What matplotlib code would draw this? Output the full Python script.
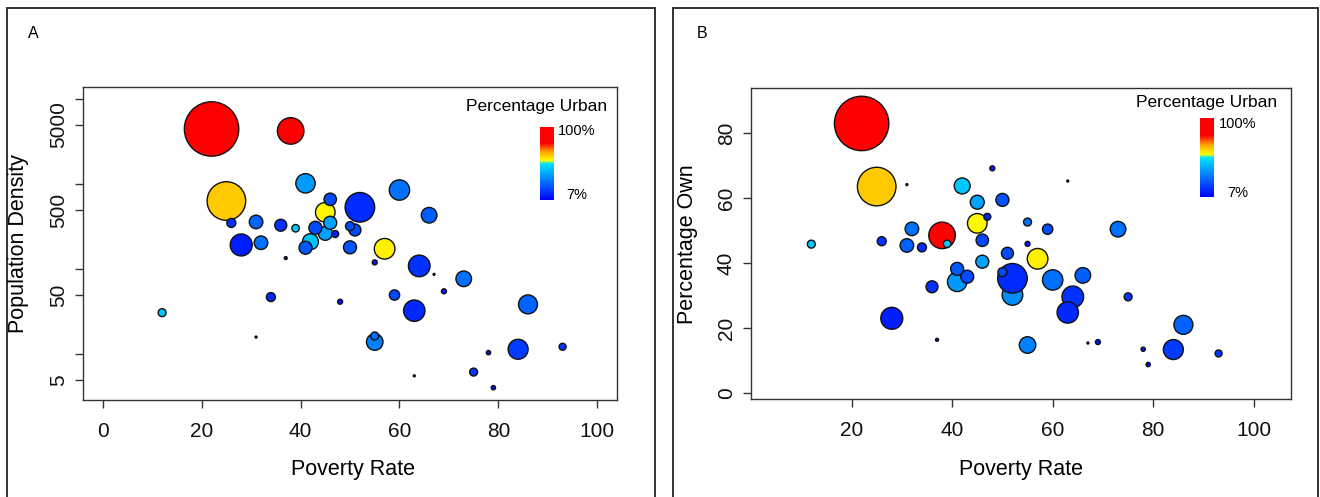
import numpy as np
import matplotlib
matplotlib.use("Agg")
import matplotlib.pyplot as plt
from matplotlib.colors import LinearSegmentedColormap
from matplotlib.patches import Rectangle

# ---------------- data ----------------
poverty = [22, 38, 25, 41, 26, 31, 36, 39, 28, 32, 37, 46, 45, 46, 43, 42, 45, 47, 41, 52,
           51, 50, 60, 66, 57, 50, 55, 64, 67, 73, 34, 59, 48, 69, 63, 86, 55, 55, 84, 93,
           78, 63, 75, 79, 12, 31, 52]
density = [4490, 4260, 638, 1030, 352, 362, 331, 305, 194, 206, 136, 668, 470, 354, 309, 212,
           266, 261, 180, 538, 291, 323, 859, 434, 175, 182, 121, 110, 87.5, 77.6, 47.3, 50,
           41.7, 55.3, 32.7, 38.8, 14.0, 16.5, 11.5, 12.3, 10.5, 5.6, 6.2, 4.06, 31, 16, 530]
own = [82.9, 48.5, 63.5, 34.2, 46.7, 45.4, 32.7, 45.9, 23.0, 50.5, 16.4, 47.0, 52.2, 40.4,
       35.8, 63.7, 58.7, 54.2, 38.2, 35.3, 43.0, 37.2, 34.8, 36.2, 41.3, 59.4, 45.9, 29.6,
       15.4, 50.4, 44.8, 50.4, 69.1, 15.7, 24.8, 21.0, 14.8, 52.6, 13.4, 12.2, 13.5, 65.2,
       29.6, 8.8, 45.8, 64.1, 30.2]
urban = [100, 90, 64, 38, 17, 27, 17, 48, 13, 30, 12, 22, 58, 40, 22, 47, 40, 14, 25, 16,
         22, 22, 30, 26, 59, 24, 12, 17, 12, 30, 15, 22, 12, 12, 15, 27, 33, 30, 19, 18,
         12, 10, 18, 10, 47, 10, 36]
population = [768, 190, 392, 104, 25, 53, 42, 18, 132, 53, 4, 45, 106, 49, 49, 72, 56, 16,
              49, 234, 42, 25, 114, 69, 117, 49, 9, 128, 2, 69, 25, 32, 9, 9, 125, 100, 77,
              20, 110, 16, 7, 2, 20, 7, 20, 2, 117]
# hidden point drawn first (last index)
draw_first = [46]

W, H, DPI = 1320, 497, 100
plt.rcParams['font.family'] = ['Liberation Sans', 'DejaVu Sans']

cmap = LinearSegmentedColormap.from_list('urb', [
    (0.00, (0.0, 0.0, 1.0)),
    (0.25, (0.0, 0.45, 1.0)),
    (0.50, (0.0, 0.9, 1.0)),
    (0.54, (1.0, 1.0, 0.0)),
    (0.66, (1.0, 0.65, 0.0)),
    (0.78, (1.0, 0.0, 0.0)),
    (1.00, (1.0, 0.0, 0.0)),
])

fig = plt.figure(figsize=(W / DPI, H / DPI), dpi=DPI)


def px_axes(l, t, r, b):
    return fig.add_axes([l / W, 1 - b / H, (r - l) / W, (b - t) / H])


# panel frames
for (l, r) in [(7, 655), (673, 1318)]:
    fig.add_artist(Rectangle((l / W, -0.05), (r - l) / W, 1 - 8 / H + 0.05,
                             transform=fig.transFigure, fill=False,
                             edgecolor='#222222', linewidth=1.3))

pov = np.array(poverty, float)
pop = np.array(population, float)
urb = np.array(urban, float)
frac = (urb - 7) / 93.0
cols = cmap(np.clip(frac, 0, 1))
r_px = 27.7 * np.sqrt(pop / pop.max()) - 0.5
r_px = np.maximum(r_px, 1.0)
sizes = (2 * r_px * 72 / DPI) ** 2

order = list(np.argsort(-pop, kind='stable'))
for i in draw_first:
    order.remove(i)
order = draw_first + order
order = np.array(order)

spine_col = '#333333'


def style(ax):
    for s in ax.spines.values():
        s.set_color(spine_col)
        s.set_linewidth(1.0)
    ax.tick_params(direction='out', length=6, width=1.0, color=spine_col,
                   labelsize=15, labelcolor='#111111')
    ax.tick_params(axis='x', pad=10)
    ax.tick_params(axis='y', pad=5, labelrotation=90)
    for lab in ax.get_yticklabels():
        lab.set_va('center')
        lab.set_ha('right')


# ---------------- Panel A ----------------
axA = px_axes(83, 87, 617, 400)
axA.scatter(pov[order], np.array(density)[order], s=sizes[order], c=cols[order],
            edgecolors='#111111', linewidths=1.0, zorder=3)
axA.set_yscale('log')
axA.set_xlim(-4, 104)
axA.set_ylim(2.91, 14000)
axA.set_xticks([0, 20, 40, 60, 80, 100])
axA.set_yticks([5, 10, 50, 100, 500, 1000, 5000, 10000])
axA.set_yticklabels(['5', '', '50', '', '500', '', '5000', ''])
axA.minorticks_off()
style(axA)

# ---------------- Panel B ----------------
axB = px_axes(751, 88, 1291, 399)
axB.scatter(pov[order], np.array(own)[order], s=sizes[order], c=cols[order],
            edgecolors='#111111', linewidths=1.0, zorder=3)
axB.set_xlim(0, 107.4)
axB.set_ylim(-1.8, 93.8)
axB.set_xticks([20, 40, 60, 80, 100])
axB.set_yticks([0, 20, 40, 60, 80])
style(axB)

# labels
fig.text(353 / W, 1 - 470 / H, 'Poverty Rate', ha='center', va='center', fontsize=15.5)
fig.text(1021 / W, 1 - 470 / H, 'Poverty Rate', ha='center', va='center', fontsize=15.5)
fig.text(19 / W, 1 - 244 / H, 'Population Density', ha='center', va='center',
         rotation=90, fontsize=15.5)
fig.text(687 / W, 1 - 244 / H, 'Percentage Own', ha='center', va='center',
         rotation=90, fontsize=15.5)
fig.text(33 / W, 1 - 33 / H, 'A', ha='center', va='center', fontsize=11.5)
fig.text(702 / W, 1 - 33 / H, 'B', ha='center', va='center', fontsize=11.5)


# legends
def legend(tx, ty, bl, bt, br, bb, lx, y100, y7):
    fig.text(tx / W, 1 - ty / H, 'Percentage Urban', ha='center', va='center', fontsize=12.5)
    cax = px_axes(bl, bt, br, bb)
    cax.imshow(np.linspace(0, 1, 256).reshape(-1, 1), cmap=cmap, aspect='auto',
               origin='lower')
    cax.set_axis_off()
    fig.text(lx / W, 1 - y100 / H, '100%', ha='center', va='center', fontsize=10.5)
    fig.text(lx / W, 1 - y7 / H, '7%', ha='center', va='center', fontsize=10.5)


legend(537, 106, 540, 127, 554, 200, 577, 131, 195)
legend(1207, 102, 1200, 118, 1214, 197, 1238, 124, 193)

fig.savefig('out.png', dpi=DPI)
